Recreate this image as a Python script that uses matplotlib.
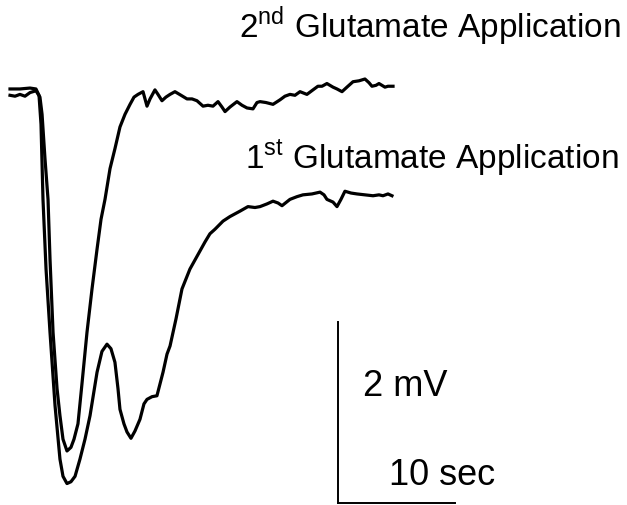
import matplotlib
matplotlib.use("Agg")
import matplotlib.pyplot as plt

# time (sec) and membrane potential (mV)
t_first = [0, 0.85, 1.71, 2.22, 2.48, 2.65, 2.82, 3.08, 3.42, 3.85, 4.27, 4.53, 4.87,
           5.21, 5.56, 5.98, 6.41, 6.84, 7.44, 7.86, 8.29, 8.63, 8.97, 9.23, 9.40,
           9.74, 10.0, 10.34, 10.68, 11.11, 11.45, 11.71, 12.14, 12.56, 12.82, 13.08,
           13.42, 13.68, 14.19, 14.70, 15.38, 16.24, 16.67, 17.09, 17.52, 18.21,
           18.80, 19.66, 20.34, 20.94, 21.37, 21.97, 22.48, 22.91, 23.25, 23.93,
           24.53, 25.04, 25.81, 26.50, 26.84, 27.09, 27.61, 27.95, 28.29, 28.63,
           29.15, 29.66, 30.34, 31.03, 31.54, 31.88, 32.31, 32.65]
v_first = [0, 0, 0.01, 0, -0.07, -0.39, -1.22, -1.99, -2.69, -3.50, -4.09, -4.28, -4.36,
           -4.34, -4.28, -4.09, -3.87, -3.61, -3.13, -2.90, -2.82, -2.87, -3.02, -3.31,
           -3.54, -3.70, -3.79, -3.86, -3.78, -3.65, -3.48, -3.43, -3.40, -3.39, -3.26,
           -3.13, -2.93, -2.84, -2.54, -2.21, -1.99, -1.79, -1.69, -1.60, -1.55, -1.46,
           -1.41, -1.35, -1.30, -1.31, -1.30, -1.27, -1.24, -1.26, -1.29, -1.22,
           -1.19, -1.17, -1.16, -1.14, -1.17, -1.22, -1.25, -1.30, -1.22, -1.13,
           -1.15, -1.16, -1.17, -1.18, -1.17, -1.18, -1.16, -1.18]

t_second = [0, 0.43, 0.85, 1.28, 1.71, 2.22, 2.56, 2.74, 2.99, 3.25, 3.42, 3.68, 4.02,
            4.27, 4.53, 4.87, 5.21, 5.47, 5.81, 6.15, 6.58, 7.01, 7.44, 7.78, 8.12,
            8.55, 8.97, 9.40, 9.83, 10.26, 10.60, 10.94, 11.37, 11.54, 11.71, 11.97,
            12.39, 12.65, 12.99, 13.33, 13.68, 14.10, 14.62, 15.13, 15.56, 15.98,
            16.50, 16.92, 17.35, 17.78, 18.12, 18.38, 18.80, 19.40, 19.83, 20.26,
            20.77, 21.11, 21.37, 21.88, 22.48, 23.08, 23.50, 23.93, 24.36, 24.79,
            25.38, 25.90, 26.32, 26.67, 27.09, 27.61, 27.95, 28.38, 28.80, 29.32,
            29.83, 30.34, 30.68, 30.94, 31.28, 31.54, 32.05, 32.31, 32.74]
v_second = [-0.07, -0.08, -0.06, -0.08, -0.04, -0.02, -0.09, -0.28, -0.77, -1.22, -1.88,
            -2.69, -3.31, -3.61, -3.87, -4.0, -3.96, -3.87, -3.70, -3.26, -2.69, -2.21,
            -1.77, -1.44, -1.22, -0.88, -0.66, -0.42, -0.28, -0.17, -0.09, -0.06, -0.03,
            -0.11, -0.19, -0.11, -0.01, -0.06, -0.13, -0.09, -0.06, -0.03, -0.07, -0.11,
            -0.11, -0.13, -0.19, -0.18, -0.19, -0.14, -0.20, -0.25, -0.20, -0.14,
            -0.18, -0.21, -0.22, -0.15, -0.14, -0.15, -0.17, -0.12, -0.08, -0.06,
            -0.07, -0.03, -0.06, -0.01, 0.03, 0.03, 0.06, 0.02, 0.0, -0.03, 0.02,
            0.08, 0.09, 0.11, 0.07, 0.03, 0.04, 0.06, 0.02, 0.03, 0.03]

# scale bars: 2 mV vertical, 10 sec horizontal
bar_t0 = 28.03
bar_v0 = -4.575
bar_mv = 2
bar_sec = 10

plt.rcParams["font.family"] = ["Liberation Sans", "DejaVu Sans"]
plt.rcParams["mathtext.fontset"] = "custom"
plt.rcParams["mathtext.rm"] = "Liberation Sans"

fig = plt.figure(figsize=(6.27, 5.06), dpi=100)
ax = fig.add_axes([0, 0, 1, 1])

ax.plot(t_first, v_first, color="black", linewidth=2.3, solid_joinstyle="round")
ax.plot(t_second, v_second, color="black", linewidth=2.3, solid_joinstyle="round")

ax.plot([bar_t0, bar_t0], [bar_v0, bar_v0 + bar_mv], color="black", linewidth=1.4)
ax.plot([bar_t0, bar_t0 + bar_sec], [bar_v0, bar_v0], color="black", linewidth=1.4)

ax.set_xlim(-0.855, 52.74)
ax.set_ylim(-4.597, 0.994)
ax.axis("off")

fig.text(621 / 627, 1 - 38 / 506, r"2$^{\rm nd}$ Glutamate Application",
         ha="right", va="baseline", fontsize=24)
fig.text(619 / 627, 1 - 168 / 506, r"1$^{\rm st}$ Glutamate Application",
         ha="right", va="baseline", fontsize=24)
fig.text(363 / 627, 1 - 396 / 506, "2 mV", ha="left", va="baseline", fontsize=26)
fig.text(389 / 627, 1 - 485 / 506, "10 sec", ha="left", va="baseline", fontsize=26)

fig.savefig("out.png", dpi=100, facecolor="white")
plt.close(fig)
